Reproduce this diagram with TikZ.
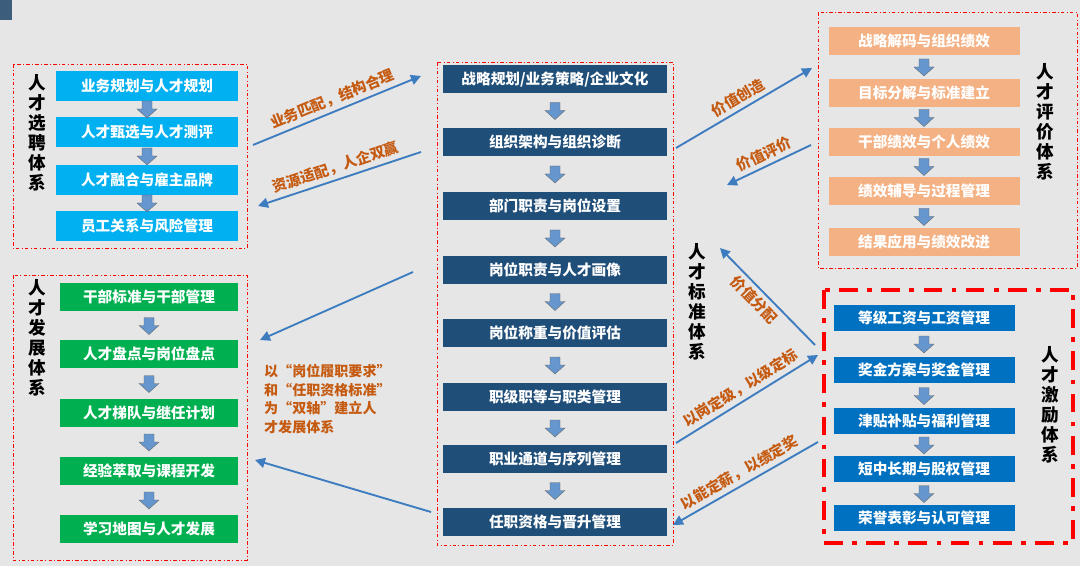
\documentclass[tikz,border=0pt]{standalone}
\usepackage{fontspec}
\setmainfont{Noto Sans CJK SC}
\usetikzlibrary{arrows.meta,positioning,calc}
\definecolor{bgc}{HTML}{E6E6E6}
\definecolor{cyanb}{HTML}{00B0F0}
\definecolor{greenb}{HTML}{00B050}
\definecolor{navyb}{HTML}{1F4E79}
\definecolor{oranb}{HTML}{F4B183}
\definecolor{blueb}{HTML}{0070C0}
\definecolor{linkc}{HTML}{3E7CC0}
\definecolor{txtc}{HTML}{C55A11}
\tikzset{
  stepbox/.style={minimum width=#1, minimum height=0.85cm, inner sep=0pt, text=white, font=\bfseries\fontsize{12.5}{12.5}\selectfont},
  groupbox/.style={draw=red, line width=0.6pt, dash dot},
  link/.style={draw=linkc, line width=1.6pt, -{Triangle[length=3mm,width=3mm]}},
  linktext/.style={text=txtc, font=\bfseries\fontsize{12.5}{13}\selectfont, sloped, above},
  sidetext/.style={font=\bfseries\fontsize{15}{17}\selectfont, align=center}
}
\newcommand{\downarr}[1]{\fill[linkc!80, draw=black!60, line width=0.3pt] ($(#1)+(-5,-8)$) -- ++(10,0) -- ++(0,8) -- ++(5,0) -- ++(-10,9) -- ++(-10,-9) -- ++(5,0) -- cycle;}
\begin{document}
\begin{tikzpicture}[x=0.03cm, y=-0.03cm]
    \fill[bgc] (0,0) rectangle (1080,566);
    \fill[navyb!70!gray] (0,0) rectangle (12,20);

    % recruitment
    \draw[groupbox] (13,64) rectangle (247,248);
    \node[sidetext] (rl) at (37,133) {人\\才\\选\\聘\\体\\系};
    \foreach \y/\t [count=\i] in {86/业务规划与人才规划, 132/人才甄选与人才测评, 180/人才融合与雇主品牌, 226/员工关系与风险管理}
        \node[stepbox=5.46cm, fill=cyanb, minimum height=0.9cm] (r\i) at (147,\y) {\t};
    \foreach \i/\j in {1/2, 2/3, 3/4} {\downarr{$(r\i.south)!0.5!(r\j.north)$}}

    % development
    \draw[groupbox] (13,275) rectangle (247,560);
    \node[sidetext] (dl) at (37,338) {人\\才\\发\\展\\体\\系};
    \foreach \y/\t [count=\i] in {297/干部标准与干部管理, 354/人才盘点与岗位盘点, 413/人才梯队与继任计划, 471/经验萃取与课程开发, 529/学习地图与人才发展}
        \node[stepbox=5.34cm, fill=greenb] (d\i) at (149,\y) {\t};
    \foreach \i/\j in {1/2, 2/3, 3/4, 4/5} {\downarr{$(d\i.south)!0.5!(d\j.north)$}}

    % standard
    \draw[groupbox] (437,62) rectangle (673,545);
    \node[sidetext] (sl) at (697,302) {人\\才\\标\\准\\体\\系};
    \foreach \y/\t [count=\i] in {79/{战略规划/业务策略/企业文化}, 142/组织架构与组织诊断, 206/部门职责与岗位设置, 270/岗位职责与人才画像, 333/岗位称重与价值评估, 397/职级职等与职类管理, 459/职业通道与序列管理, 522/任职资格与晋升管理}
        \node[stepbox=6.69cm, fill=navyb] (s\i) at (555,\y) {\t};
    \foreach \i/\j in {1/2, 2/3, 3/4, 4/5, 5/6, 6/7, 7/8} {\downarr{$(s\i.south)!0.5!(s\j.north)$}}

    % evaluation
    \draw[groupbox] (818,12) rectangle (1077,268);
    \node[sidetext] (el) at (1045,122) {人\\才\\评\\价\\体\\系};
    \foreach \y/\t [count=\i] in {41/战略解码与组织绩效, 93/目标分解与标准建立, 142/干部绩效与个人绩效, 191/绩效辅导与过程管理, 242/结果应用与绩效改进}
        \node[stepbox=5.73cm, fill=oranb] (e\i) at (924,\y) {\t};
    \foreach \i/\j in {1/2, 2/3, 3/4, 4/5} {\downarr{$(e\i.south)!0.5!(e\j.north)$}}

    % incentive
    \draw[red, line width=3.5pt, dash pattern=on 16pt off 8pt on 4pt off 8pt] (824,290) rectangle (1073,543);
    \node[sidetext] (il) at (1050,405) {人\\才\\激\\励\\体\\系};
    \foreach \y/\t [count=\i] in {318/等级工资与工资管理, 370/奖金方案与奖金管理, 421/津贴补贴与福利管理, 469/短中长期与股权管理, 518/荣誉表彰与认可管理}
        \node[stepbox=5.43cm, fill=blueb, minimum height=0.8cm] (m\i) at (924,\y) {\t};
    \foreach \i/\j in {1/2, 2/3, 3/4, 4/5} {\downarr{$(m\i.south)!0.5!(m\j.north)$}}

    % links
    \coordinate (a1) at (253,145);  \coordinate (a2) at (421,76);
    \coordinate (b1) at (421,152);  \coordinate (b2) at (258,206);
    \coordinate (c1) at (413,272);  \coordinate (c2) at (260,340);
    \coordinate (f1) at (431,512);  \coordinate (f2) at (255,460);
    \coordinate (g1) at (676,148);  \coordinate (g2) at (812,68);
    \coordinate (h1) at (811,145);  \coordinate (h2) at (727,185);
    \coordinate (k1) at (815,345);  \coordinate (k2) at (720,248);
    \coordinate (p1) at (676,443);  \coordinate (p2) at (818,355);
    \coordinate (q1) at (818,442);  \coordinate (q2) at (673,525);
    \draw[link] (a1) -- node[linktext] {业务匹配，结构合理} (a2);
    \draw[link] (b1) -- node[linktext] {资源适配，人企双赢} (b2);
    \draw[link] (c1) -- (c2);
    \draw[link] (f1) -- (f2);
    \draw[link] (g1) -- node[linktext] {价值创造} (g2);
    \draw[link] (h1) -- node[linktext] {价值评价} (h2);
    \draw[link, {Triangle[length=3mm,width=3mm]}-] (k2) -- node[linktext, pos=0.45, below] {价值分配} (k1);
    \draw[link] (p1) -- node[linktext] {以岗定级，以级定标} (p2);
    \draw[link] (q1) -- node[linktext] {以能定薪，以绩定奖} (q2);
    \node[text=txtc, font=\bfseries\fontsize{12}{16}\selectfont, align=left, anchor=north west] (dt) at (260,360) {以“岗位履职要求”\\和“任职资格标准”\\为“双轴”建立人\\才发展体系};
\end{tikzpicture}
\end{document}
